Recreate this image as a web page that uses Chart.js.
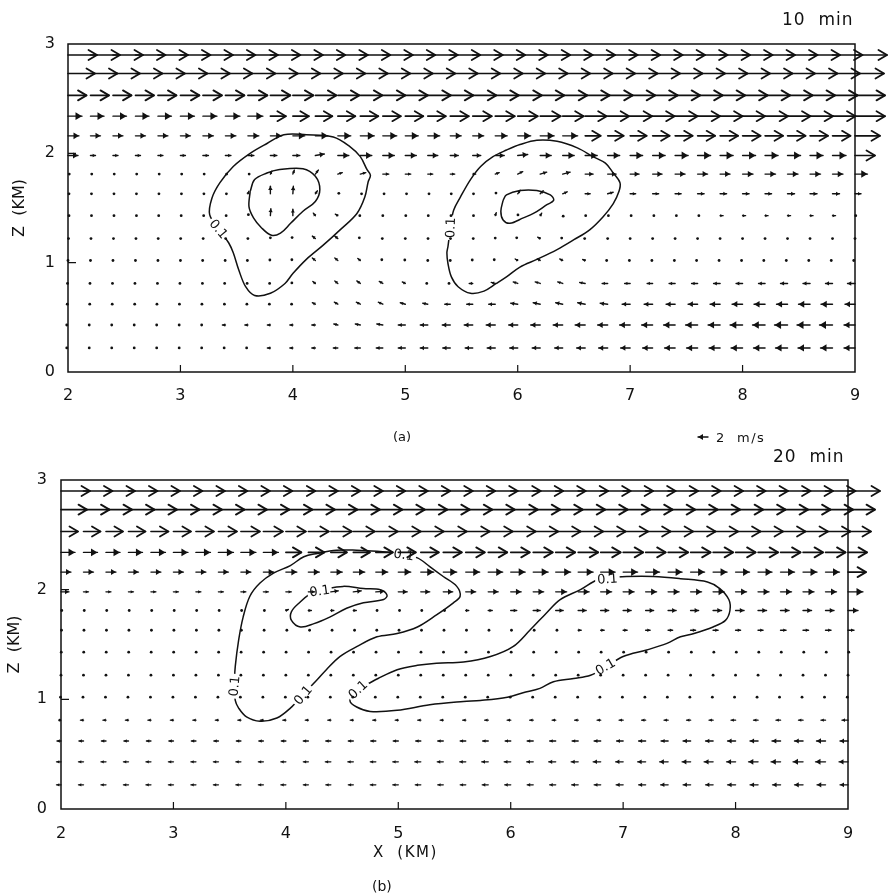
<!DOCTYPE html>
<html>
<head>
<meta charset="utf-8">
<script src="https://cdn.jsdelivr.net/npm/chart.js@4.4.1/dist/chart.umd.min.js"></script>
<style>
 html,body{margin:0;padding:0;background:#fff}
 body{position:relative;width:888px;height:894px;overflow:hidden;font-family:"DejaVu Sans",sans-serif;color:#111}
 canvas{position:absolute;left:0}
 #panelA{top:0}
 #panelB{top:445px}
 .lbl{position:absolute;white-space:pre;line-height:1}
</style>
</head>
<body>
<canvas id="panelA" width="888" height="445"></canvas>
<canvas id="panelB" width="888" height="449"></canvas>
<div class="lbl" style="left:782px;top:11px;font-size:17px;letter-spacing:1px">10  min</div>
<div class="lbl" style="left:393px;top:430px;font-size:13px">(a)</div>
<div class="lbl" style="left:716px;top:431px;font-size:13px;letter-spacing:1.5px">2  m/s</div>
<div class="lbl" style="left:773px;top:448px;font-size:17px;letter-spacing:1px">20  min</div>
<div class="lbl" style="left:373px;top:845px;font-size:15px;letter-spacing:1.5px">X  (KM)</div>
<div class="lbl" style="left:372px;top:879px;font-size:14px">(b)</div>
<script>
Chart.defaults.font.family = '"DejaVu Sans", sans-serif';

// model grid: columns in x (km), rows in z (km)
const XCOLS = [2.0,2.2,2.4,2.6,2.8,3.0,3.2,3.4,3.6,3.8,4.0,4.2,4.4,4.6,4.8,5.0,5.2,5.4,5.6,5.8,6.0,6.2,6.4,6.6,6.8,7.0,7.2,7.4,7.6,7.8,8.0,8.2,8.4,8.6,8.8,9.0];
const ZROWS = [0.22,0.43,0.62,0.81,1.02,1.22,1.43,1.63,1.81,1.98,2.16,2.34,2.53,2.73,2.9];
const X_TICKS = [2,3,4,5,6,7,8,9];
const Z_TICKS = [0,1,2,3];
const CONTOUR_LEVEL = 0.1;
const REF_SPEED = 2;      // m/s, key vector
const PX_PER_MS = 5;      // arrow length per m/s

// horizontal wind u (m/s), one row per ZROWS entry, one value per XCOLS entry
const U_A = [
 [-0.5,-0.5,-0.5,-0.5,-0.5,-0.5,-0.5,-0.5,-0.5,-0.6,-0.6,-0.7,-0.9,-1.1,-1.3,-1.4,-1.5,-1.5,-1.5,-1.6,-1.6,-1.6,-1.6,-1.7,-1.8,-1.9,-2.0,-2.1,-2.2,-2.2,-2.3,-2.3,-2.4,-2.4,-2.4,-2.2],
 [-0.5,-0.5,-0.5,-0.5,-0.5,-0.5,-0.5,-0.6,-0.6,-0.6,-0.6,-0.7,-0.8,-1.0,-1.2,-1.4,-1.5,-1.6,-1.7,-1.8,-1.8,-1.9,-1.9,-2.0,-2.0,-2.1,-2.2,-2.3,-2.4,-2.4,-2.5,-2.5,-2.6,-2.6,-2.6,-2.2],
 [-0.3,-0.3,-0.3,-0.3,-0.4,-0.4,-0.4,-0.4,-0.4,-0.4,-0.5,-0.6,-0.7,-0.8,-0.9,-1.0,-1.0,-1.1,-1.2,-1.3,-1.4,-1.4,-1.4,-1.5,-1.5,-1.6,-1.7,-1.8,-1.9,-2.0,-2.1,-2.2,-2.2,-2.3,-2.3,-2.0],
 [-0.2,-0.2,-0.2,-0.2,-0.2,-0.2,-0.2,-0.3,-0.3,-0.3,-0.4,-0.5,-0.6,-0.7,-0.7,-0.6,-0.4,-0.5,-0.7,-0.8,-0.9,-1.0,-1.0,-1.1,-1.1,-1.1,-1.1,-1.2,-1.2,-1.3,-1.3,-1.3,-1.4,-1.4,-1.4,-1.5],
 [0,0,0,0,0,0,-0.1,-0.1,-0.2,-0.2,-0.4,-0.6,-0.6,-0.5,-0.4,-0.2,0,0,-0.2,-0.4,-0.5,-0.6,-0.6,-0.5,-0.4,-0.3,-0.3,-0.3,-0.4,-0.4,-0.4,-0.5,-0.5,-0.5,-0.5,-0.5],
 [0.2,0.2,0.2,0.2,0.1,0.1,0.1,0.1,0,0,-0.3,-0.6,-0.6,-0.4,-0.2,0,0.1,0.1,0.2,0,-0.4,-0.5,-0.4,-0.2,0,0,0,0,0,0,0,0,0,0,0,0],
 [0.4,0.4,0.4,0.4,0.3,0.3,0.3,0.3,0.2,0.1,0,-0.4,-0.5,-0.2,0,0.2,0.2,0.3,0.3,0.2,0.1,0.3,0.2,0.2,0.3,0.4,0.5,0.5,0.5,0.6,0.6,0.6,0.6,0.6,0.6,0.3],
 [0.4,0.4,0.4,0.4,0.4,0.4,0.4,0.4,0.2,0,0.1,0.4,0.4,0.5,0.5,0.5,0.5,0.4,0.3,0.3,0.5,0.6,0.9,1.0,1.1,1.1,1.2,1.2,1.3,1.3,1.3,1.3,1.4,1.4,1.4,1.2],
 [0.5,0.5,0.5,0.5,0.5,0.5,0.5,0.5,0.5,0.3,0.3,0.6,0.9,1.1,1.2,1.1,1.0,0.9,0.6,0.8,1.0,1.3,1.5,1.6,1.7,1.8,1.9,2.0,2.0,2.0,2.1,2.1,2.1,2.1,2.1,2.5],
 [2.0,1.0,1.0,1.0,1.0,1.0,1.1,1.1,1.2,1.3,1.4,1.8,2.2,2.3,2.3,2.2,2.0,1.6,1.6,1.8,2.0,2.2,2.3,2.4,2.4,2.5,2.5,2.6,2.6,2.6,2.6,2.6,2.6,2.6,2.7,4.0],
 [2.2,2.0,2.0,2.0,2.0,2.0,2.1,2.1,2.2,2.3,2.4,2.5,2.6,2.8,2.8,2.6,2.4,2.2,2.2,2.4,2.6,2.8,3.0,3.1,3.2,3.3,3.4,3.5,3.5,3.6,3.6,3.6,3.6,3.6,3.6,5.0],
 [2.8,2.7,2.7,2.7,2.7,2.8,2.8,2.9,3.0,3.1,3.2,3.4,3.5,3.6,3.6,3.6,3.6,3.7,3.8,3.9,4.0,4.1,4.2,4.3,4.3,4.4,4.4,4.5,4.5,4.5,4.5,4.6,4.6,4.6,4.6,6.0],
 [3.7,3.7,3.7,3.7,3.7,3.8,3.8,3.8,3.9,4.0,4.1,4.2,4.3,4.4,4.5,4.5,4.6,4.6,4.7,4.7,4.8,4.8,4.9,4.9,5.0,5.0,5.0,5.0,5.0,5.0,5.0,5.0,5.0,5.0,5.0,6.0],
 [5.4,5.4,5.4,5.4,5.4,5.4, 5.4,5.4,5.5,5.5,5.5,5.5, 5.5,5.5,5.5,5.5,5.5,5.5, 5.5,5.5,5.5,5.5,5.5,5.5, 5.5,5.5,5.5,5.5,5.5,5.5, 5.5,5.5,5.5,5.5,5.5,5.8],
 [5.8,5.9,6.0,6.0,6.0,6.0, 6.0,6.0,6.0,6.0,6.0,6.0, 6.0,6.0,6.0,6.0,6.0,6.0, 6.0,6.0,6.0,6.0,6.0,6.0, 6.0,6.0,6.0,6.0,6.0,6.0, 6.0,6.0,6.0,6.0,6.0,6.4]
];
// vertical wind w (m/s), nonzero cells only: [column, row, w]
const W_A = [
 [12,1,0.2],[13,1,0.2],[14,1,0.2],
 [11,2,0.3],[12,2,0.4],[13,2,0.4],[14,2,0.4],[15,2,0.3],[16,2,0.2],[20,2,0.2],[21,2,0.3],[22,2,0.3],[23,2,0.3],[24,2,0.2],
 [10,3,0.2],[11,3,0.4],[12,3,0.5],[13,3,0.5],[14,3,0.4],[15,3,0.3],[19,3,0.2],[20,3,0.3],[21,3,0.3],[22,3,0.3],[23,3,0.2],
 [9,4,0.2],[10,4,0.3],[11,4,0.5],[12,4,0.5],[13,4,0.4],[14,4,0.3],[15,4,0.2],[18,4,0.2],[19,4,0.3],[20,4,0.3],[21,4,0.3],[22,4,0.3],[23,4,0.2],
 [9,5,0.3],[10,5,0.4],[11,5,0.5],[12,5,0.5],[13,5,0.3],[19,5,0.2],[20,5,0.3],[21,5,0.3],[22,5,0.2],
 [8,6,0.4],[9,6,1.4],[10,6,1.3],[11,6,0.5],[12,6,0.3],[19,6,0.6],[20,6,0.3],[21,6,0.5],[22,6,-0.2],
 [8,7,0.5],[9,7,1.5],[10,7,1.5],[11,7,0.6],[12,7,0.2],[19,7,0.3],[20,7,0.7],[21,7,0.6],[22,7,0.4],[24,7,0.3],
 [9,8,0.6],[10,8,0.8],[11,8,0.8],[12,8,0.3],[13,8,0.3],[19,8,0.3],[20,8,0.5],[21,8,0.4],[22,8,0.4],
 [11,9,0.3],[20,9,0.2]
];

const U_B = [
 [-0.9,-1.0,-1.0,-1.0,-1.0,-1.0,-1.0,-1.0,-1.0,-1.0,-1.0,-1.0,-1.0,-1.0,-1.1,-1.1,-1.1,-1.1,-1.1,-1.2,-1.2,-1.2,-1.2,-1.3,-1.3,-1.4,-1.4,-1.5,-1.5,-1.5,-1.6,-1.6,-1.6,-1.7,-1.7,-1.6],
 [-0.9,-1.0,-1.0,-1.0,-1.0,-1.0,-1.0,-1.0,-1.0,-1.0,-1.0,-1.0,-1.1,-1.1,-1.1,-1.1,-1.2,-1.2,-1.2,-1.3,-1.3,-1.3,-1.4,-1.4,-1.5,-1.5,-1.6,-1.7,-1.7,-1.8,-1.8,-1.9,-1.9,-2.0,-2.0,-1.8],
 [-0.8,-0.9,-0.9,-0.9,-0.9,-0.9,-0.9,-0.9,-0.9,-0.9,-0.9,-1.0,-1.0,-1.0,-1.0,-1.0,-1.0,-1.1,-1.1,-1.1,-1.1,-1.2,-1.2,-1.2,-1.3,-1.3,-1.4,-1.4,-1.5,-1.5,-1.6,-1.6,-1.7,-1.7,-1.8,-1.6],
 [-0.5,-0.6,-0.6,-0.6,-0.6,-0.6, -0.6,-0.6,-0.6,-0.6,-0.6,-0.6, -0.6,-0.6,-0.6,-0.6,-0.6,-0.6, -0.6,-0.7,-0.7,-0.7,-0.7,-0.7, -0.7,-0.8,-0.8,-0.8,-0.8,-0.8, -0.9,-0.9,-0.9,-0.9,-0.9,-1.2],
 [-0.2,-0.2,-0.2,-0.2,-0.2,-0.2, -0.2,-0.2,-0.2,-0.2,-0.2,-0.2, -0.2,-0.2,-0.2,-0.2,-0.2,-0.2, -0.2,-0.2,-0.2,-0.2,-0.2,-0.2, -0.3,-0.3,-0.3,-0.3,-0.3,-0.3, -0.4,-0.4,-0.4,-0.4,-0.4,-0.3],
 [0,0,0,0,0,0, 0,0,0,0,0,0, 0,0,0,0,0,0, 0,0,0,0,0,0, 0,0,0,0,0,0, 0,0,0,0,0,0],
 [0.1,0.1,0.1,0.1,0.1,0.1, 0.1,0.1,0.1,0.1,0.1,0.1, 0.1,0.1,0.1,0.1,0.1,0.1, 0.1,0.1,0.2,0.2,0.2,0.2, 0.2,0.2,0.2,0.2,0.3,0.3, 0.3,0.3,0.3,0.3,0.3,0.3],
 [0.2,0.2,0.2,0.2,0.2,0.2,0.2,0.2,0.2,0.3,0.4,0.5,0.5,0.5,0.4,0.3,0.3,0.3,0.3,0.3,0.3,0.4,0.5,0.6,0.7,0.8,0.9,0.9,1.0,1.0,1.0,1.0,1.1,1.1,1.1,1.2],
 [0.3,0.3,0.3,0.3,0.3,0.3,0.3,0.3,0.3,0.4,0.5,0.6,0.6,0.6,0.5,0.5,0.4,0.5,0.6,0.8,1.2,1.4,1.5,1.6,1.6,1.6,1.6,1.6,1.6,1.7,1.7,1.7,1.7,1.7,1.7,2.0],
 [1.6,1.0,1.0,1.0,1.0,1.0,1.0,1.0,1.0,1.0,1.1,1.3,1.5,1.6,1.7,1.8,1.8,1.9,2.0,2.0,2.1,2.1,2.2,2.2,2.2,2.2,2.2,2.2,2.2,2.2,2.2,2.2,2.2,2.2,2.2,3.0],
 [2.0,2.0,2.0,2.0,2.0,2.0,2.0,2.0,2.0,2.1,2.2,2.2,2.3,2.3,2.4,2.5,2.6,2.7,2.8,2.9,2.9,3.0,3.0,3.0,2.9,2.9,2.8,2.8,2.8,2.8,2.8,2.8,2.8,2.8,2.8,3.6],
 [2.8,2.8,2.8,2.8,2.9,2.9,2.9,3.0,3.0,3.0,3.1,3.2,3.2,3.3,3.4,3.5,3.6,3.7,3.8,3.8,3.8,3.9,3.9,4.0,4.0,4.0,4.0,4.0,4.0,4.0,4.0,4.0,4.0,4.0,4.0,3.8],
 [3.4,3.4,3.4,3.4,3.5,3.5,3.6,3.7,3.8,3.9,4.0,4.1,4.2,4.3,4.4,4.5,4.6,4.7,4.8,4.9,5.0,5.0,5.0,5.0,5.0,5.0,5.0,5.0,5.0,5.0,5.0,5.0,5.0,5.0,5.0,4.6],
 [5.2,5.2,5.2,5.2,5.2,5.2, 5.2,5.2,5.2,5.2,5.3,5.3, 5.3,5.3,5.3,5.3,5.3,5.3, 5.3,5.3,5.4,5.4,5.4,5.4, 5.4,5.4,5.4,5.4,5.4,5.4, 5.5,5.5,5.5,5.5,5.5,5.4],
 [5.8,5.8,5.8,5.8,5.8,5.8, 5.8,5.8,5.8,5.8,5.9,5.9, 5.9,5.9,5.9,5.9,5.9,5.9, 5.9,5.9,6.0,6.0,6.0,6.0, 6.0,6.0,6.0,6.0,6.0,6.0, 6.0,6.0,6.0,6.0,6.0,6.4]
];
const W_B = [[10,8,0.2],[12,9,0.2],[13,9,0.2],[14,9,0.1]];

// 0.1 contours as closed loops of [x, z]
const CONTOURS_A = [
 [[3.34,1.31],[3.26,1.44],[3.28,1.59],[3.35,1.73],[3.47,1.88],[3.62,2.00],[3.77,2.09],[3.92,2.17],[4.12,2.17],[4.36,2.15],[4.51,2.06],[4.60,1.97],[4.66,1.85],[4.69,1.80],[4.67,1.74],[4.64,1.60],[4.57,1.45],[4.42,1.30],[4.27,1.16],[4.12,1.03],[4.00,0.90],[3.93,0.81],[3.80,0.72],[3.66,0.70],[3.58,0.78],[3.52,0.93],[3.47,1.09],[3.43,1.18]],
 [[3.62,1.65],[3.66,1.76],[3.77,1.82],[3.87,1.85],[4.09,1.86],[4.20,1.79],[4.24,1.67],[4.20,1.56],[4.09,1.47],[3.98,1.36],[3.89,1.27],[3.81,1.25],[3.72,1.32],[3.65,1.41],[3.61,1.51]],
 [[5.40,1.32],[5.43,1.48],[5.49,1.60],[5.58,1.76],[5.67,1.88],[5.78,1.97],[5.90,2.03],[6.02,2.08],[6.17,2.12],[6.35,2.11],[6.53,2.05],[6.67,1.97],[6.78,1.91],[6.85,1.82],[6.91,1.73],[6.90,1.65],[6.85,1.54],[6.76,1.42],[6.64,1.30],[6.50,1.21],[6.35,1.12],[6.17,1.03],[6.02,0.96],[5.90,0.87],[5.81,0.81],[5.70,0.74],[5.58,0.72],[5.47,0.78],[5.41,0.87],[5.38,0.99],[5.37,1.09],[5.38,1.15]],
 [[5.87,1.57],[5.90,1.62],[6.02,1.66],[6.17,1.66],[6.29,1.62],[6.32,1.57],[6.26,1.53],[6.14,1.45],[6.05,1.41],[5.93,1.36],[5.87,1.39],[5.85,1.47]]
];
const CONTOURS_B = [
 [[3.54,1.13],[3.55,1.30],[3.58,1.54],[3.62,1.75],[3.68,1.94],[3.77,2.06],[3.89,2.15],[4.04,2.22],[4.16,2.30],[4.28,2.33],[4.45,2.36],[4.63,2.36],[4.81,2.35],[5.00,2.33],[5.17,2.29],[5.28,2.21],[5.40,2.12],[5.52,2.03],[5.55,1.94],[5.49,1.88],[5.34,1.77],[5.17,1.66],[4.99,1.60],[4.81,1.57],[4.63,1.48],[4.48,1.39],[4.36,1.27],[4.28,1.18],[4.15,1.04],[4.04,0.92],[3.92,0.83],[3.77,0.80],[3.65,0.84],[3.58,0.92],[3.55,0.99]],
 [[4.30,2.00],[4.51,2.03],[4.69,2.01],[4.84,2.00],[4.90,1.95],[4.87,1.91],[4.69,1.88],[4.54,1.83],[4.39,1.75],[4.25,1.69],[4.13,1.66],[4.05,1.72],[4.05,1.80],[4.13,1.89],[4.20,1.95]],
 [[4.64,1.09],[4.82,1.19],[4.99,1.27],[5.17,1.31],[5.34,1.33],[5.58,1.34],[5.82,1.39],[6.02,1.48],[6.17,1.63],[6.32,1.79],[6.44,1.91],[6.62,2.00],[6.77,2.09],[6.88,2.11],[7.03,2.12],[7.27,2.12],[7.51,2.10],[7.75,2.07],[7.86,2.01],[7.94,1.91],[7.95,1.81],[7.91,1.72],[7.80,1.66],[7.63,1.60],[7.51,1.57],[7.39,1.51],[7.21,1.45],[7.00,1.39],[6.84,1.29],[6.71,1.22],[6.56,1.19],[6.38,1.16],[6.26,1.10],[6.11,1.06],[5.97,1.02],[5.73,0.99],[5.58,0.98],[5.28,0.95],[4.99,0.90],[4.75,0.89],[4.63,0.93],[4.57,0.99]]
];
// contour label anchors: [x, z, angle in degrees]
const LABELS_A = [[3.34,1.31,50],[5.40,1.32,-88]];
const LABELS_B = [[3.54,1.12,-85],[4.15,1.04,-50],[5.05,2.32,8],[4.30,1.99,-8],[4.64,1.09,-42],[6.86,2.10,-4],[6.84,1.30,-30]];

function drawArrow(ctx, x0, y0, dx, dy) {
  const len = Math.hypot(dx, dy);
  if (len < 2.6) {
    ctx.beginPath();
    ctx.arc(x0 + dx / 2, y0 + dy / 2, 1.4, 0, Math.PI * 2);
    ctx.fill();
    return;
  }
  const ux = dx / len, uy = dy / len;
  const hx = x0 + dx, hy = y0 + dy;
  const big = len > 15;
  ctx.lineWidth = big ? 1.6 : 1.4;
  ctx.beginPath();
  ctx.moveTo(x0, y0);
  ctx.lineTo(hx, hy);
  ctx.stroke();
  const hl = big ? 8.5 : Math.max(2.8, Math.min(6.5, len * 0.5));
  const hw = big ? 5 : hl * 0.6;
  const bx = hx - ux * hl, by = hy - uy * hl;
  ctx.beginPath();
  ctx.moveTo(bx - uy * hw, by + ux * hw);
  ctx.lineTo(hx, hy);
  ctx.lineTo(bx + uy * hw, by - ux * hw);
  if (big) { ctx.lineWidth = 1.8; ctx.stroke(); }
  else { ctx.closePath(); ctx.fill(); }
}

const fieldPlugin = {
  id: 'field',
  afterDatasetsDraw(chart, args, opts) {
    const {ctx, chartArea: a, scales: {x, y}} = chart;
    ctx.save();
    ctx.strokeStyle = '#111';
    ctx.fillStyle = '#111';
    ctx.lineWidth = 1.5;
    ctx.strokeRect(a.left, a.top, a.right - a.left, a.bottom - a.top);

    // inward tick marks
    ctx.lineWidth = 1.2;
    ctx.beginPath();
    X_TICKS.forEach(v => {
      if (v <= x.min || v >= x.max) return;
      const p = x.getPixelForValue(v);
      ctx.moveTo(p, a.bottom); ctx.lineTo(p, a.bottom - 7);
    });
    Z_TICKS.forEach(v => {
      if (v <= y.min || v >= y.max) return;
      const p = y.getPixelForValue(v);
      ctx.moveTo(a.left, p); ctx.lineTo(a.left + 8, p);
    });
    ctx.stroke();

    // contour labels, on a white patch that breaks the line
    const txt = CONTOUR_LEVEL.toFixed(1);
    ctx.font = '13px "DejaVu Sans"';
    ctx.textAlign = 'center';
    ctx.textBaseline = 'middle';
    (opts.labels || []).forEach(([lx, lz, deg]) => {
      const w = ctx.measureText(txt).width;
      ctx.save();
      ctx.translate(x.getPixelForValue(lx), y.getPixelForValue(lz));
      ctx.rotate(deg * Math.PI / 180);
      ctx.fillStyle = '#fff';
      ctx.fillRect(-w / 2 - 2, -6, w + 4, 12);
      ctx.fillStyle = '#111';
      ctx.fillText(txt, 0, 1);
      ctx.restore();
    });

    // wind vectors, tail on the grid point
    ctx.lineCap = 'round';
    ctx.lineJoin = 'round';
    chart.data.datasets.forEach((ds, i) => {
      if (!ds.vectors) return;
      chart.getDatasetMeta(i).data.forEach((el, j) => {
        const v = ds.data[j];
        drawArrow(ctx, el.x, el.y, v.u * PX_PER_MS, -v.w * PX_PER_MS);
      });
    });
    if (opts.key) drawArrow(ctx, opts.key.x, opts.key.y, -REF_SPEED * PX_PER_MS, 0);
    ctx.restore();
  }
};

function vectorPoints(U, W) {
  const pts = [];
  ZROWS.forEach((z, r) => XCOLS.forEach((x, c) => pts.push({x: x, y: z, u: U[r][c], w: 0})));
  W.forEach(([c, r, w]) => { pts[r * XCOLS.length + c].w = w; });
  return pts;
}

function contourSets(loops) {
  return loops.map(l => ({
    data: l.concat([l[0]]).map(([x, z]) => ({x: x, y: z})),
    showLine: true,
    borderColor: '#111',
    borderWidth: 1.5,
    pointRadius: 0,
    tension: 0.35,
    fill: false
  }));
}

function panel(id, o) {
  return new Chart(document.getElementById(id), {
    type: 'scatter',
    data: {
      datasets: contourSets(o.contours).concat([{
        data: vectorPoints(o.u, o.w), vectors: true, pointRadius: 0, pointHoverRadius: 0
      }])
    },
    options: {
      responsive: false,
      animation: false,
      devicePixelRatio: 1,
      events: [],
      layout: {autoPadding: false, padding: {top: o.top, right: o.right, left: 0, bottom: 0}},
      plugins: {legend: {display: false}, tooltip: {enabled: false}, field: {labels: o.labels, key: o.key}},
      scales: {
        x: {
          type: 'linear', min: 2, max: 9,
          grid: {display: false}, border: {display: false},
          afterBuildTicks: s => { s.ticks = X_TICKS.map(v => ({value: v})); },
          ticks: {color: '#111', font: {size: 16}, padding: o.xpad, maxRotation: 0, autoSkip: false},
          afterFit: s => { s.height = o.xh; }
        },
        y: {
          type: 'linear', min: 0, max: 3,
          grid: {display: false}, border: {display: false},
          afterBuildTicks: s => { s.ticks = Z_TICKS.map(v => ({value: v})); },
          ticks: {color: '#111', font: {size: 16}, padding: o.ypad, autoSkip: false},
          title: {display: true, text: 'Z  (KM)', color: '#111', font: {size: 16}, padding: {top: o.tpad, bottom: 0}},
          afterFit: s => { s.width = o.yw; }
        }
      }
    },
    plugins: [fieldPlugin]
  });
}

panel('panelA', {u: U_A, w: W_A, contours: CONTOURS_A, labels: LABELS_A,
  top: 44, right: 33, yw: 68, xh: 73, xpad: 6, ypad: 5, tpad: 10, key: {x: 708, y: 437}});
panel('panelB', {u: U_B, w: W_B, contours: CONTOURS_B, labels: LABELS_B,
  top: 35, right: 40, yw: 61, xh: 85, xpad: 7, ypad: 6, tpad: 5});
</script>
</body>
</html>
